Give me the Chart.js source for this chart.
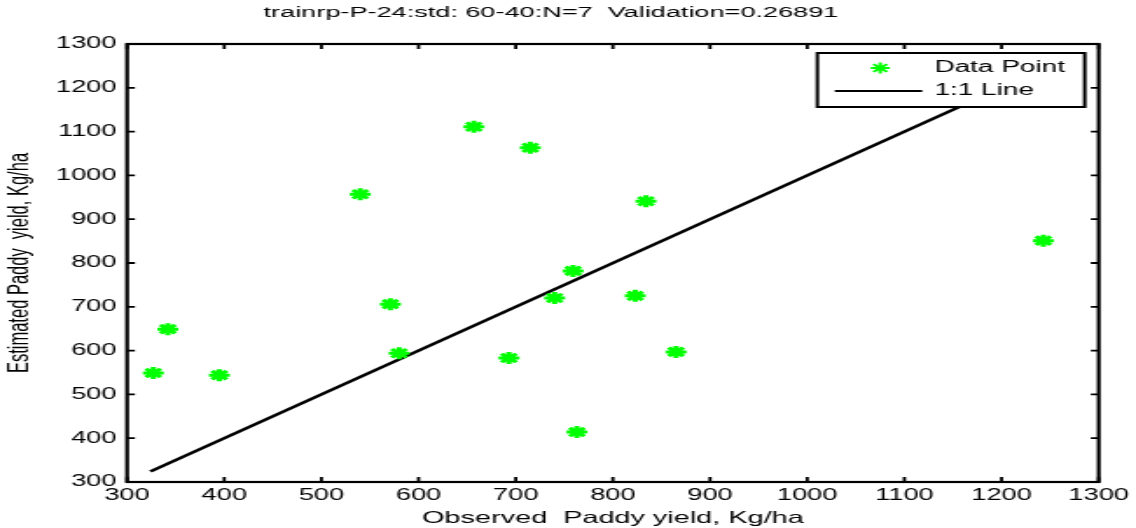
<!DOCTYPE html>
<html>
<head>
<meta charset="utf-8">
<script src="https://cdn.jsdelivr.net/npm/chart.js@4.4.1/dist/chart.umd.min.js"></script>
<style>
  html, body { margin: 0; padding: 0; background: #fff; overflow: hidden; }
  /* the source figure is stretched sideways, so draw narrow and stretch the box */
  #wrap { width: 650px; height: 528px; transform: scaleX(1.7477); transform-origin: 0 0; }
  #chart { display: block; }
</style>
</head>
<body>
<div id="wrap"><canvas id="chart" width="650" height="528" style="width:650px;height:528px"></canvas></div>
<script>
// Data
const observed  = [327, 342, 395, 540, 571, 580, 657, 693, 715, 740, 759, 763, 823, 834, 865, 1243];
const estimated = [549, 649, 544, 957, 706, 594, 1111, 583, 1063, 720, 782, 414, 725, 941, 597, 851];
const oneToOneX = [324, 1243];
const axisMin = 300, axisMax = 1300, axisStep = 100;

const chartTitle = 'trainrp-P-24:std: 60-40:N=7  Validation=0.26891';
const xTitle = 'Observed  Paddy yield, Kg/ha';
const yTitle = 'Estimated Paddy  yield, Kg/ha';
const FONT = '"Liberation Sans", Arial, sans-serif';
const GREEN = '#00ff00';

const points = observed.map((v, i) => ({ x: v, y: estimated[i] }));
const linePts = oneToOneX.map(v => ({ x: v, y: v }));

// frame + inward ticks like matlab "box on", plus the legend box
const framePlugin = {
    id: 'frame',
    afterDatasetsDraw(chart) {
        const { ctx, chartArea: a, scales } = chart;
        ctx.save();
        ctx.strokeStyle = '#000';
        ctx.lineWidth = 2.2;
        ctx.strokeRect(a.left, a.top, a.right - a.left, a.bottom - a.top);
        ctx.lineWidth = 1.8;
        ctx.beginPath();
        for (let v = axisMin; v <= axisMax; v += axisStep) {
            const px = scales.x.getPixelForValue(v);
            ctx.moveTo(px, a.bottom); ctx.lineTo(px, a.bottom - 5);
            ctx.moveTo(px, a.top); ctx.lineTo(px, a.top + 5);
            const py = scales.y.getPixelForValue(v);
            ctx.moveTo(a.left, py); ctx.lineTo(a.left + 4.5, py);
            ctx.moveTo(a.right, py); ctx.lineTo(a.right - 4.5, py);
        }
        ctx.stroke();

        const w = 153, h = 54;
        const lx = a.right - 8 - w, ly = a.top + 9;
        ctx.fillStyle = '#fff';
        ctx.fillRect(lx, ly, w, h);
        ctx.lineWidth = 2;
        ctx.strokeRect(lx, ly, w, h);

        const ds = chart.data.datasets;
        ctx.strokeStyle = GREEN;
        ctx.fillStyle = GREEN;
        Chart.helpers.drawPoint(ctx, { pointStyle: 'star', radius: 5.5, borderWidth: 2.6 }, lx + 36, ly + 15);

        ctx.font = '16px ' + FONT;
        ctx.fillStyle = '#000';
        ctx.textBaseline = 'middle';
        ctx.textAlign = 'left';
        ctx.fillText(ds[0].label, lx + 67, ly + 15);
        ctx.strokeStyle = '#000';
        ctx.lineWidth = 1.8;
        ctx.beginPath();
        ctx.moveTo(lx + 10, ly + 38); ctx.lineTo(lx + 60, ly + 38);
        ctx.stroke();
        ctx.fillText(ds[1].label, lx + 67, ly + 38);
        ctx.restore();
    }
};

const plain = v => String(v);

new Chart(document.getElementById('chart').getContext('2d'), {
    type: 'scatter',
    data: {
        datasets: [
            {
                label: 'Data Point', data: points,
                pointStyle: 'star', pointRadius: 6, pointHoverRadius: 6,
                borderColor: GREEN, backgroundColor: GREEN, pointBorderWidth: 3
            },
            {
                label: '1:1 Line', data: linePts, type: 'line', showLine: true,
                borderColor: '#000', borderWidth: 2.6, pointRadius: 0, fill: false
            }
        ]
    },
    options: {
        responsive: false,
        animation: false,
        devicePixelRatio: 1,
        layout: { padding: { left: 0, right: 19.5, top: 0, bottom: 0 } },
        plugins: {
            legend: { display: false },
            tooltip: { enabled: false },
            title: {
                display: true, text: chartTitle, color: '#000',
                font: { family: FONT, size: 15.5, weight: 'normal' },
                padding: { top: 3, bottom: 22.4 }
            }
        },
        scales: {
            x: {
                type: 'linear', min: axisMin, max: axisMax,
                grid: { display: false, drawTicks: false },
                border: { display: false },
                ticks: { stepSize: axisStep, color: '#000', padding: 4, maxRotation: 0,
                         font: { family: FONT, size: 15.6 }, callback: plain },
                title: { display: true, text: xTitle, color: '#000',
                         font: { family: FONT, size: 16.5 }, padding: { top: 0, bottom: 0 } },
                afterFit(scale) { scale.height = 46; }
            },
            y: {
                type: 'linear', min: axisMin, max: axisMax,
                grid: { display: false, drawTicks: false },
                border: { display: false },
                ticks: { stepSize: axisStep, color: '#000', padding: 6,
                         font: { family: FONT, size: 15.6 }, callback: plain },
                title: { display: true, text: yTitle, color: '#000',
                         font: { family: FONT, size: 16.5 }, padding: { top: 2, bottom: 0 } },
                afterFit(scale) { scale.width = 72.7; }
            }
        }
    },
    plugins: [framePlugin]
});
</script>
</body>
</html>
